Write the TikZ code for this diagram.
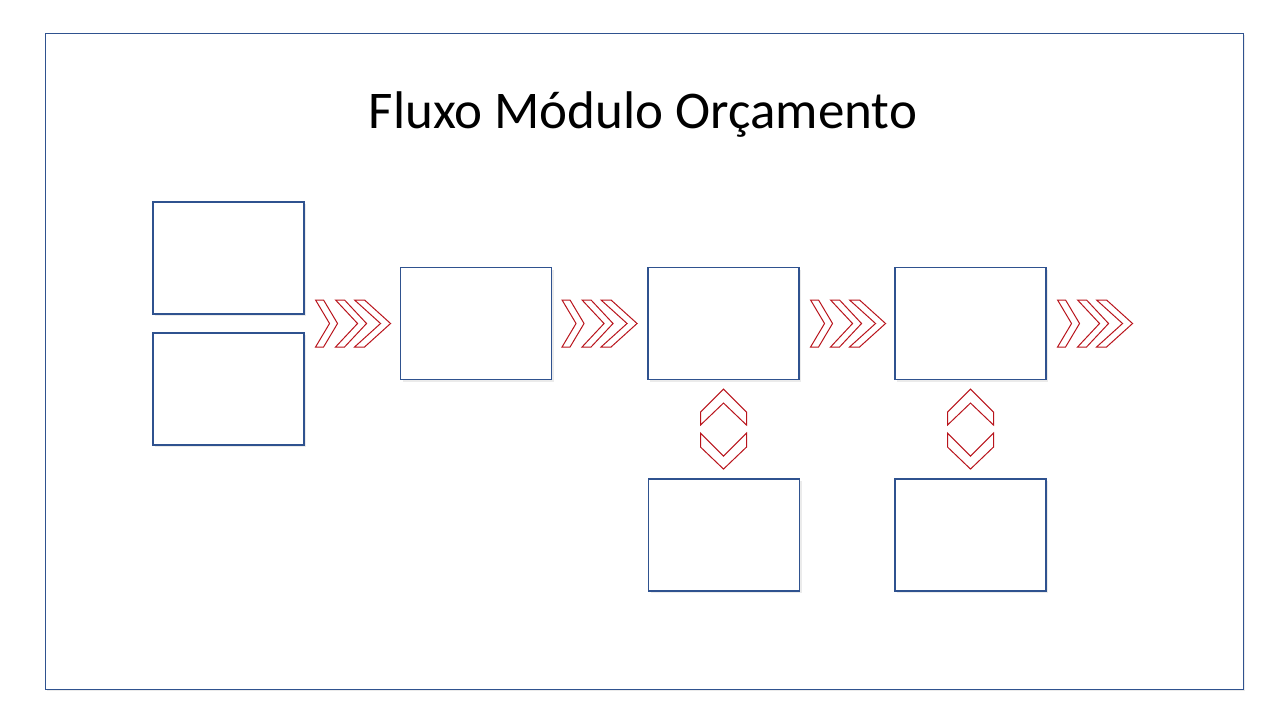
\documentclass[tikz,border=0pt]{standalone}
\usepackage{fontspec}
\setmainfont{Carlito}
\usepackage{tikz}
\usetikzlibrary{positioning,shadows,calc}
\definecolor{boxblue}{RGB}{47,82,143}
\definecolor{chevred}{RGB}{185,20,28}

\begin{document}
\begin{tikzpicture}[x=1pt,y=-1pt,
		every node/.style={inner sep=0pt},
		box/.style={draw=boxblue,line width=1.1pt,fill=white,minimum width=151pt,minimum height=112pt,
			drop shadow={shadow xshift=2pt,shadow yshift=-2pt,fill=black!15,opacity=0.5}},
		frm/.style={draw=boxblue,line width=1pt,fill=white,minimum width=1198pt,minimum height=656pt,
			drop shadow={shadow xshift=2pt,shadow yshift=-2pt,fill=black!15,opacity=0.5}},
		chev/.style={draw=chevred,line width=1pt,fill=white},
		pics/fwd/.style={code={
			\draw[chev] (0,-23.5) -- (8,-23.5) -- (22,0) -- (8,23.5) -- (0,23.5) -- (14,0) -- cycle;
			\draw[chev] (20,-23.5) -- (29,-23.5) -- (51,0) -- (29,23.5) -- (20,23.5) -- (42,0) -- cycle;
			\draw[chev] (39,-23.5) -- (49,-23.5) -- (75,0) -- (49,23.5) -- (39,23.5) -- (65,0) -- cycle;
		}},
		pics/updown/.style={code={
			\draw[chev] (-23,23) -- (0,0) -- (23,23) -- (23,36) -- (0,14) -- (-23,36) -- cycle;
			\draw[chev] (-23,44) -- (0,67) -- (23,44) -- (23,58) -- (0,80) -- (-23,58) -- cycle;
		}}]
		\useasboundingbox (0,0) rectangle (1280,720);
		\fill[white] (0,0) rectangle (1280,720);

		%frame and title
		\node[frm] (frame) at (644,361) {};
		\node[font=\fontsize{53}{64}\selectfont,anchor=base] (title) at (643,128) {Fluxo Módulo Orçamento};

		%left boxes
		\node[box] (l1) at (228.5,258) {};
		\node[box] (l2) at (228.5,389) {};

		%top row
		\node[box] (b2) at (476,323.5) {};
		\node[box] (b3) at (723.5,323.5) {};
		\node[box] (b4) at (970.5,323.5) {};

		%bottom row
		\node[box] (c3) at (724,535) {};
		\node[box] (c4) at (970.5,535) {};

		%chevrons
		\pic at ($(l1.east)!0.5!(l2.east)+(11,0)$) {fwd};
		\pic at ([xshift=10pt]b2.east) {fwd};
		\pic at ([xshift=11pt]b3.east) {fwd};
		\pic at ([xshift=11pt]b4.east) {fwd};

		\pic at ([yshift=-9pt]b3.south) {updown};
		\pic at ([yshift=-9pt]b4.south) {updown};

		\end{tikzpicture}
\end{document}
